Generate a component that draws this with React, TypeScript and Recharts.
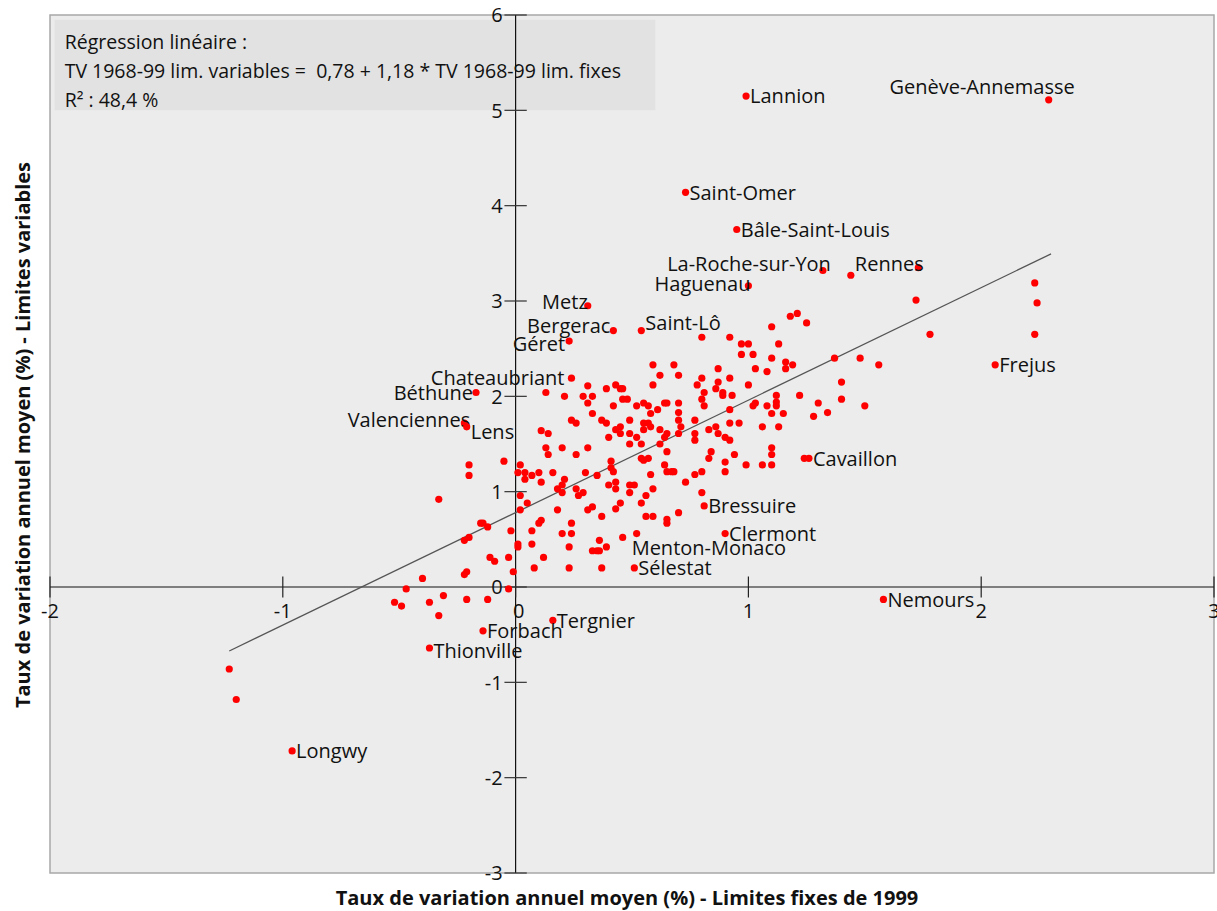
import React from 'react'
import { ScatterChart, Scatter, XAxis, YAxis, ReferenceArea, ReferenceLine, ReferenceDot } from 'recharts'

const FONT = '"Open Sans", "DejaVu Sans", sans-serif'

const xTicks = [-2, -1, 0, 1, 2, 3]
const yTicks = [-3, -2, -1, 0, 1, 2, 3, 4, 5, 6]

// villes nommées sur le graphique
const townNames = [
  'Lannion', 'Genève-Annemasse', 'Saint-Omer', 'Bâle-Saint-Louis', 'La-Roche-sur-Yon', 'Rennes',
  'Haguenau', 'Metz', 'Bergerac', 'Saint-Lô', 'Géret', 'Chateaubriant', 'Béthune', 'Valenciennes',
  'Lens', 'Frejus', 'Cavaillon', 'Bressuire', 'Clermont', 'Menton-Monaco', 'Sélestat', 'Nemours',
  'Tergnier', 'Forbach', 'Thionville', 'Longwy',
]
const townX = [
  0.99, 2.29, 0.73, 0.95, 1.32, 1.44,
  1.0, 0.31, 0.42, 0.54, 0.23, 0.24, -0.17, -0.22,
  -0.21, 2.06, 1.26, 0.81, 0.9, 0.52, 0.51, 1.58,
  0.16, -0.14, -0.37, -0.96,
]
const townY = [
  5.15, 5.11, 4.14, 3.75, 3.32, 3.27,
  3.16, 2.95, 2.69, 2.69, 2.58, 2.19, 2.04, 1.72,
  1.68, 2.33, 1.35, 0.85, 0.56, 0.56, 0.2, -0.13,
  -0.35, -0.46, -0.64, -1.72,
]

// autres aires urbaines (x = limites fixes, y = limites variables)
const centreTowns: [number, number][] = [
  [0.13, 2.04], [0.21, 2.0], [0.31, 2.11], [0.29, 2.0], [0.33, 2.0], [0.31, 1.93], [0.33, 1.82], [0.24, 1.75], [0.26, 1.72], [0.11, 1.64],
  [0.14, 1.61], [0.13, 1.46], [0.2, 1.46], [0.14, 1.39], [0.26, 1.39], [0.31, 1.46], [-0.2, 1.28], [-0.2, 1.17], [-0.05, 1.32], [0.02, 1.28],
  [0.01, 1.2], [0.04, 1.2], [0.07, 1.17], [0.1, 1.2], [0.16, 1.2], [0.21, 1.13], [0.3, 1.2], [0.35, 1.17], [0.04, 1.13], [0.11, 1.1],
  [0.2, 1.07], [0.18, 1.03], [0.2, 0.99], [0.26, 1.03], [0.27, 0.96], [0.29, 0.99], [0.02, 0.96], [0.05, 0.88], [-0.33, 0.92], [0.02, 0.81],
  [0.18, 0.81], [0.31, 0.81], [0.33, 0.84], [-0.15, 0.67], [-0.14, 0.67], [-0.12, 0.63], [0.1, 0.67], [0.11, 0.7], [0.07, 0.59], [-0.02, 0.59],
  [0.24, 0.67], [0.2, 0.56], [0.24, 0.56], [-0.22, 0.49], [-0.2, 0.52], [0.01, 0.45], [0.01, 0.42], [0.07, 0.45], [0.23, 0.42], [0.33, 0.38],
  [0.35, 0.38], [-0.11, 0.31], [-0.09, 0.27], [-0.03, 0.31], [0.12, 0.31], [0.08, 0.2], [0.23, 0.2], [0.36, 0.38], [0.37, 0.2], [0.36, 0.49],
  [0.39, 0.42], [0.46, 0.52],
]
const lowerTowns: [number, number][] = [
  [-0.4, 0.09], [-0.22, 0.13], [-0.21, 0.16], [-0.01, 0.16], [-0.47, -0.02], [-0.03, -0.02], [-0.52, -0.16], [-0.49, -0.2], [-0.37, -0.16],
  [-0.31, -0.09], [-0.21, -0.13], [-0.12, -0.13], [-0.33, -0.3], [-1.23, -0.86], [-1.2, -1.18],
]
const upperTowns: [number, number][] = [
  [1.18, 2.84], [1.21, 2.87], [1.25, 2.77], [1.1, 2.73], [0.8, 2.62], [0.92, 2.62], [0.97, 2.55], [1.0, 2.55], [1.13, 2.55], [0.97, 2.44],
  [1.02, 2.44], [1.1, 2.4], [1.16, 2.36], [1.19, 2.33], [1.16, 2.29], [1.03, 2.29], [1.08, 2.26], [0.87, 2.29], [0.59, 2.33], [0.68, 2.33],
  [0.62, 2.22], [0.7, 2.22], [0.8, 2.19], [0.87, 2.15], [0.92, 2.19], [0.59, 2.12], [0.39, 2.08], [0.43, 2.12], [0.45, 2.08], [0.46, 2.08],
  [0.46, 1.97], [0.48, 1.97], [0.78, 2.12], [0.81, 2.04], [0.86, 2.08], [0.89, 2.04], [0.89, 2.01], [0.93, 2.01], [1.0, 2.12], [0.8, 1.97],
  [0.81, 1.9], [0.42, 1.9], [0.52, 1.9], [0.55, 1.93], [0.57, 1.9], [0.61, 1.86], [0.64, 1.93], [0.65, 1.93], [0.7, 1.93], [0.58, 1.82],
  [0.7, 1.83], [1.12, 2.01], [1.12, 1.94], [1.12, 1.9], [1.02, 1.9], [1.03, 1.93], [1.08, 1.9], [0.92, 1.86], [1.22, 2.01], [1.1, 1.82],
  [1.15, 1.82], [1.28, 1.79], [1.3, 1.93], [0.37, 1.75], [0.39, 1.72], [0.45, 1.68], [0.43, 1.65], [0.45, 1.61], [0.49, 1.75], [0.55, 1.72],
  [0.57, 1.72], [0.58, 1.68], [0.55, 1.65], [0.62, 1.65], [0.7, 1.75], [0.71, 1.68], [0.77, 1.75], [0.77, 1.61], [0.77, 1.54], [0.83, 1.65],
  [0.86, 1.68], [0.87, 1.61], [0.92, 1.72], [0.96, 1.72], [0.9, 1.57], [0.92, 1.54], [1.06, 1.68], [1.13, 1.68], [0.49, 1.61], [0.4, 1.57],
  [0.52, 1.57], [0.65, 1.61], [0.64, 1.57], [0.7, 1.61], [0.49, 1.5], [0.54, 1.5], [0.62, 1.5], [0.65, 1.42], [0.84, 1.42], [0.94, 1.39],
  [0.83, 1.35], [1.1, 1.46], [1.1, 1.39], [1.1, 1.28], [1.24, 1.35], [0.54, 1.35], [0.55, 1.33], [0.57, 1.35], [0.41, 1.32], [0.41, 1.25],
  [0.42, 1.21], [0.64, 1.28], [0.58, 1.18], [0.65, 1.21], [0.67, 1.21], [0.68, 1.21], [0.77, 1.18], [0.8, 1.21], [0.9, 1.21], [0.9, 1.31],
  [0.99, 1.28], [1.06, 1.28], [0.73, 1.1], [0.4, 1.07], [0.43, 1.1], [0.43, 1.03], [0.49, 1.07], [0.51, 1.07], [0.49, 0.99], [0.59, 1.03],
  [0.56, 0.96], [0.54, 0.88], [0.45, 0.88], [0.43, 0.82], [0.8, 0.99], [0.37, 0.74], [0.56, 0.74], [0.59, 0.74], [0.65, 0.71], [0.65, 0.67],
  [0.7, 0.78], [1.37, 2.4], [1.48, 2.4], [1.56, 2.33], [1.4, 2.15], [1.4, 1.97], [1.5, 1.9], [1.34, 1.83], [1.72, 3.01], [1.78, 2.65],
  [2.23, 3.19], [2.24, 2.98], [2.23, 2.65], [1.73, 3.35],
]

// droite de régression
const fitIntercept = 0.78
const fitSlope = 1.18
const fitFrom = -1.23
const fitTo = 2.3

const regressionText = [
  'Régression linéaire :',
  'TV 1968-99 lim. variables =  0,78 + 1,18 * TV 1968-99 lim. fixes',
  'R² : 48,4 %',
]

const towns = townNames.map((name, i) => ({ name, x: townX[i], y: townY[i] }))
const others = [...centreTowns, ...lowerTowns, ...upperTowns].map(([x, y]) => ({ x, y }))

const leftSide = new Set([
  'Genève-Annemasse', 'La-Roche-sur-Yon', 'Haguenau', 'Metz', 'Bergerac', 'Géret',
  'Chateaubriant', 'Béthune', 'Valenciennes',
])
const nudge: Record<string, { dx?: number; dy?: number }> = {
  'Genève-Annemasse': { dx: 29, dy: -13 },
  'La-Roche-sur-Yon': { dx: 11, dy: -7 },
  Rennes: { dy: -11 },
  'Saint-Lô': { dy: -8 },
  'Menton-Monaco': { dx: -9, dy: 14 },
  Metz: { dx: 3, dy: -4 },
  Bergerac: { dy: -5 },
  Haguenau: { dx: 5, dy: -2 },
  Géret: { dx: -1, dy: 3 },
  Chateaubriant: { dx: -4 },
  Valenciennes: { dx: 9, dy: -3 },
  Lens: { dy: 5 },
  Thionville: { dy: 3 },
}

function Dot(props: any) {
  const { cx, cy } = props
  return <circle cx={cx} cy={cy} r={3.6} fill="#ff0000" />
}

function TownDot(props: any) {
  const { cx, cy, payload } = props
  const left = leftSide.has(payload.name)
  const n = nudge[payload.name] || {}
  return (
    <g>
      <circle cx={cx} cy={cy} r={3.6} fill="#ff0000" />
      <text
        x={cx + (left ? -3 : 4) + (n.dx || 0)}
        y={cy + (n.dy || 0)}
        dy="0.36em"
        textAnchor={left ? 'end' : 'start'}
        fontSize={20}
        fontFamily={FONT}
        fill="#111"
      >
        {payload.name}
      </text>
    </g>
  )
}

function TickText({ viewBox, text, dx = 0, dy = 0, anchor = 'middle' }: any) {
  const cx = viewBox.x + (viewBox.width || 0) / 2
  const cy = viewBox.y + (viewBox.height || 0) / 2
  return (
    <text x={cx + dx} y={cy + dy} dy="0.36em" textAnchor={anchor} fontSize={20} fontFamily={FONT} fill="#111">
      {text}
    </text>
  )
}

function BoxText({ viewBox }: any) {
  return (
    <g>
      {regressionText.map((line, i) => (
        <text
          key={i}
          x={viewBox.x + 10}
          y={viewBox.y + 22 + i * 29}
          dy="0.36em"
          fontSize={19.5}
          fontFamily={FONT}
          fill="#111"
          style={{ whiteSpace: 'pre' }}
        >
          {line}
        </text>
      ))}
    </g>
  )
}

export default function App() {
  return (
    <div style={{ position: 'absolute', left: 0, top: 0, width: 1217, height: 911, background: '#fff' }}>
      <ScatterChart width={1217} height={911} margin={{ top: 15, right: 3, bottom: 38, left: 50 }}>
        <XAxis type="number" dataKey="x" domain={[-2, 3]} hide allowDataOverflow />
        <YAxis type="number" dataKey="y" domain={[-3, 6]} hide allowDataOverflow />

        {/* fond de la zone de tracé */}
        <ReferenceArea x1={-2} x2={3} y1={-3} y2={6} fill="#ececec" fillOpacity={1} stroke="#a8a8a8" strokeWidth={1.5} />

        {/* encadré de la régression */}
        <ReferenceArea x1={-1.98} x2={0.6} y1={5.0} y2={5.95} fill="#e2e2e2" fillOpacity={1} label={<BoxText />} />

        {/* axes passant par l'origine */}
        <ReferenceLine y={0} stroke="#111" strokeWidth={1.2} />
        <ReferenceLine x={0} stroke="#111" strokeWidth={1.2} />

        {xTicks.map(t => (
          <ReferenceLine key={'xt' + t} segment={[{ x: t, y: -0.11 }, { x: t, y: 0.11 }]} stroke="#222" strokeWidth={1.2} ifOverflow="visible" />
        ))}
        {yTicks.map(t => (
          <ReferenceLine key={'yt' + t} segment={[{ x: -0.048, y: t }, { x: 0.048, y: t }]} stroke="#333" strokeWidth={1.2} ifOverflow="visible" />
        ))}
        {xTicks.map(t => (
          <ReferenceDot key={'xl' + t} x={t} y={0} r={0.01} fill="none" stroke="none" ifOverflow="visible"
            label={<TickText text={String(t)} dy={24} dx={t === 0 ? 3 : 0} />} />
        ))}
        {yTicks.map(t => (
          <ReferenceDot key={'yl' + t} x={0} y={t} r={0.01} fill="none" stroke="none" ifOverflow="visible"
            label={<TickText text={String(t)} dx={-13} anchor="end" />} />
        ))}

        <ReferenceLine
          segment={[
            { x: fitFrom, y: fitIntercept + fitSlope * fitFrom },
            { x: fitTo, y: fitIntercept + fitSlope * fitTo },
          ]}
          stroke="#555"
          strokeWidth={1.3}
        />

        <Scatter data={others} shape={Dot} isAnimationActive={false} />
        <Scatter data={towns} shape={TownDot} isAnimationActive={false} />
      </ScatterChart>

      <div
        style={{
          position: 'absolute', left: 0, width: 1254, top: 884, textAlign: 'center',
          fontFamily: FONT, fontWeight: 700, fontSize: 20, color: '#111', whiteSpace: 'nowrap',
        }}
      >
        Taux de variation annuel moyen (%) - Limites fixes de 1999
      </div>
      <div
        style={{
          position: 'absolute', left: 22, top: 435, width: 0, height: 0,
        }}
      >
        <div
          style={{
            position: 'absolute', left: 0, top: 0, transform: 'translate(-50%, -50%) rotate(-90deg)',
            fontFamily: FONT, fontWeight: 700, fontSize: 20, color: '#111', whiteSpace: 'nowrap',
          }}
        >
          Taux de variation annuel moyen (%) - Limites variables
        </div>
      </div>
    </div>
  )
}
